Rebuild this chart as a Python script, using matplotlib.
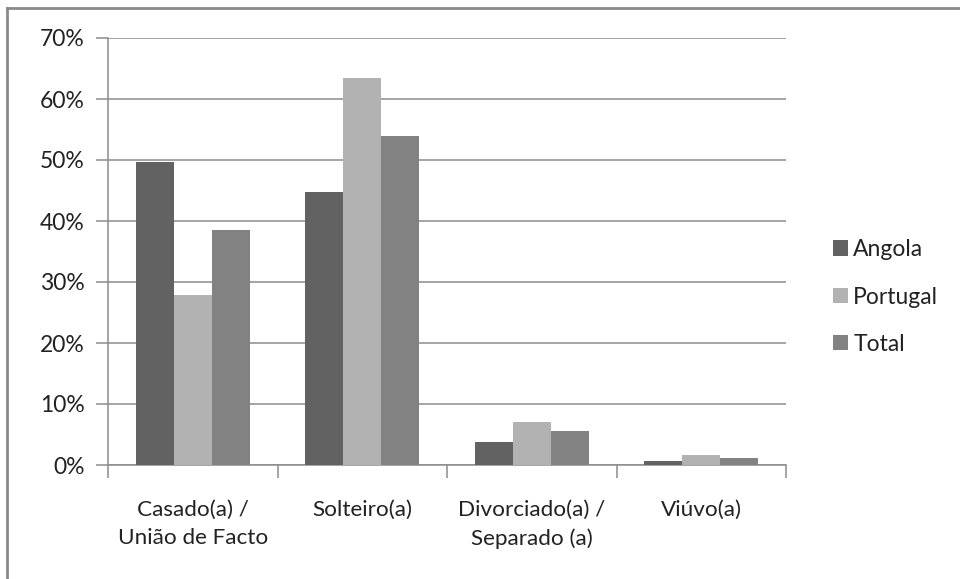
import numpy as np
import matplotlib.pyplot as plt
from matplotlib.lines import Line2D
from matplotlib.ticker import PercentFormatter

categories = ['Casado(a) /\nUnião de Facto', 'Solteiro(a)', 'Divorciado(a) /\nSeparado (a)', 'Viúvo(a)']
series = ['Angola', 'Portugal', 'Total']
angola = [49.6, 44.8, 3.8, 0.7]
portugal = [27.8, 63.5, 7.0, 1.6]
total = [38.5, 54.0, 5.6, 1.1]
colors = ['#626262', '#b2b2b2', '#828282']

plt.rcParams['font.family'] = ['Lato', 'DejaVu Sans']
plt.rcParams['font.size'] = 16.5

fig = plt.figure(figsize=(9.6, 5.79), dpi=100)
ax = fig.add_axes([108/960, 1-465/579, (786-108)/960, (465-38)/579])

x = np.arange(len(categories))
w = 0.224
for i, (vals, name) in enumerate(zip([angola, portugal, total], series)):
    ax.bar(x + (i-1)*w, vals, w, color=colors[i], label=name, zorder=3)

ax.set_xlim(-0.5, len(categories)-0.5)
ax.set_ylim(0, 70)
ax.set_yticks(np.arange(0, 71, 10))
ax.yaxis.set_major_formatter(PercentFormatter(decimals=0))
ax.grid(axis='y', color='#8c8c8c', lw=1.1, zorder=0)

ax.set_xticks(np.arange(-0.5, len(categories), 1))
ax.set_xticklabels([])
ax.set_xticks(x, minor=True)
ax.set_xticklabels(categories, minor=True, linespacing=1.5)
ax.tick_params(axis='x', which='minor', length=0, pad=25, labelsize=16.2, colors='#222222')
ax.tick_params(axis='x', which='major', length=9, color='#8c8c8c', width=1.1)
ax.tick_params(axis='y', length=9, color='#8c8c8c', width=1.1, pad=8, labelsize=16.5, labelcolor='#222222')

for s in ['top', 'right']:
    ax.spines[s].set_visible(False)
for s in ['left', 'bottom']:
    ax.spines[s].set_color('#8c8c8c')
    ax.spines[s].set_linewidth(1.1)

leg = fig.legend(loc='center left', bbox_to_anchor=(812/960, 1-297/579), frameon=False,
                 handlelength=0.65, handleheight=0.65, handletextpad=0.25,
                 labelspacing=1.15, fontsize=16.5)
for t in leg.get_texts():
    t.set_color('#222222')

# chart border
fig.add_artist(Line2D([7/960, 1], [1-8/579, 1-8/579], color='#8a8a8a', lw=2, transform=fig.transFigure))
fig.add_artist(Line2D([7/960, 7/960], [0, 1-8/579], color='#8a8a8a', lw=2, transform=fig.transFigure))

fig.savefig('out.png', dpi=100)
